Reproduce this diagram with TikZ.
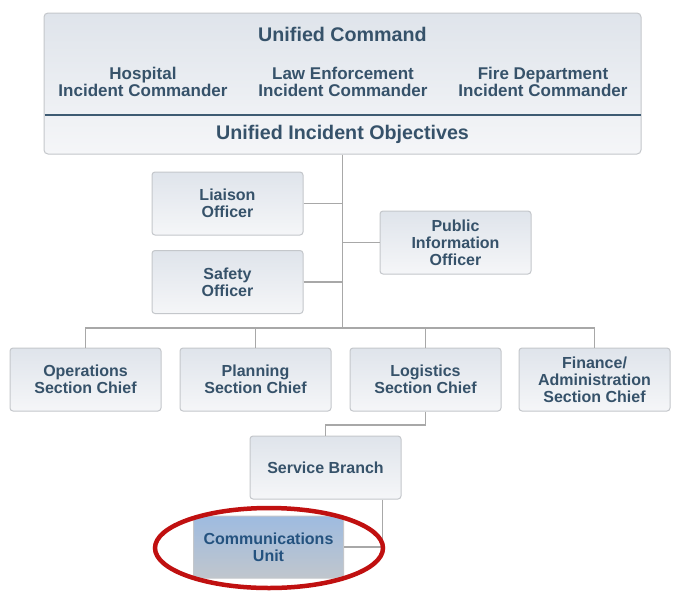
\documentclass[tikz,border=0pt]{standalone}
\usepackage{fontspec}
\setmainfont{Liberation Sans}
\usetikzlibrary{calc,shapes.geometric}
\definecolor{boxtop}{HTML}{DFE4EB}
\definecolor{boxbot}{HTML}{F5F6F8}
\definecolor{boxborder}{HTML}{C4C7CB}
\definecolor{txt}{HTML}{36526A}
\definecolor{divline}{HTML}{3E5B73}
\definecolor{connc}{HTML}{A8A8A8}
\definecolor{cutop}{HTML}{9EBBE0}
\definecolor{cubot}{HTML}{C0C6CD}
\definecolor{cutxt}{HTML}{24527F}
\definecolor{ringred}{HTML}{C01010}
\tikzset{
  orgbox/.style={draw=boxborder, line width=1pt, rounded corners=3pt,
    top color=boxtop, bottom color=boxbot, minimum width=151pt,
    minimum height=63pt, align=center, text=txt, inner sep=0pt,
    font=\fontsize{16}{17}\selectfont\bfseries},
  lbl/.style={align=center, text=txt, inner sep=0pt,
    font=\fontsize{17}{17}\selectfont\bfseries},
  biglbl/.style={align=center, text=txt, inner sep=0pt,
    font=\fontsize{19.7}{21}\selectfont\bfseries},
  conn/.style={draw=connc, line width=1.5pt},
}
\begin{document}
\begin{tikzpicture}[x=1pt,y=-1pt]
\useasboundingbox (0,0) rectangle (682,592);
\fill[white] (0,0) rectangle (682,592);

% top box
\node[draw=boxborder, line width=1pt, rounded corners=4pt, top color=boxtop,
  bottom color=boxbot, minimum width=597pt, minimum height=141pt, inner sep=0pt]
  (uc) at (342.5,83.5) {};
\coordinate (dl) at (44.5,115);
\coordinate (dr) at (640.5,115);
\draw[divline, line width=1.5pt] (dl) -- (dr);
\node[biglbl] (uct) at (342.5,34) {Unified Command};
\node[lbl] (hic) at (143,81.5) {Hospital\\Incident Commander};
\node[lbl] (lic) at (343,81.5) {Law Enforcement\\Incident Commander};
\node[lbl] (fic) at (543,81.5) {Fire Department\\Incident Commander};
\node[biglbl] (uio) at (342.5,134) {Unified Incident Objectives};

% staff
\node[orgbox] (lia) at (227.5,203.5) {Liaison\\Officer};
\node[orgbox] (saf) at (227.5,282) {Safety\\Officer};
\node[orgbox] (pio) at (455.5,242.5) {Public\\Information\\Officer};

% sections
\node[orgbox] (ops) at (85.5,379.5) {Operations\\Section Chief};
\node[orgbox] (pla) at (255.5,379.5) {Planning\\Section Chief};
\node[orgbox] (log) at (425.5,379.5) {Logistics\\Section Chief};
\node[orgbox] (fin) at (594.5,379.5) {Finance/\\Administration\\Section Chief};

\node[orgbox] (sb) at (325.5,467.5) {Service Branch};
\node[orgbox, minimum width=150pt, minimum height=62pt, top color=cutop,
  bottom color=cubot, text=cutxt] (cu) at (268.5,547) {Communications\\Unit};

% connectors
\coordinate (bus) at (342.5,328);
\draw[conn] (uc.south) -- (bus);
\draw[conn] (lia.east) -- (lia.east -| bus);
\draw[conn] (saf.east) -- (saf.east -| bus);
\draw[conn] (pio.west) -- (pio.west -| bus);
\draw[conn] (ops.north) |- (bus) -| (fin.north);
\draw[conn] (pla.north) -- (pla.north |- bus);
\draw[conn] (log.north) -- (log.north |- bus);
\coordinate (lj) at (425.5,425);
\draw[conn] (log.south) -- (lj) -| (sb.north);
\coordinate (sj) at (382.5,547);
\draw[conn] (sj |- sb.south) -- (sj) -- (cu.east);

% highlight ring
\node[draw=ringred, line width=4.5pt, ellipse, minimum width=228pt,
  minimum height=80pt, inner sep=0pt] (ring) at (269,548) {};
\end{tikzpicture}
\end{document}
